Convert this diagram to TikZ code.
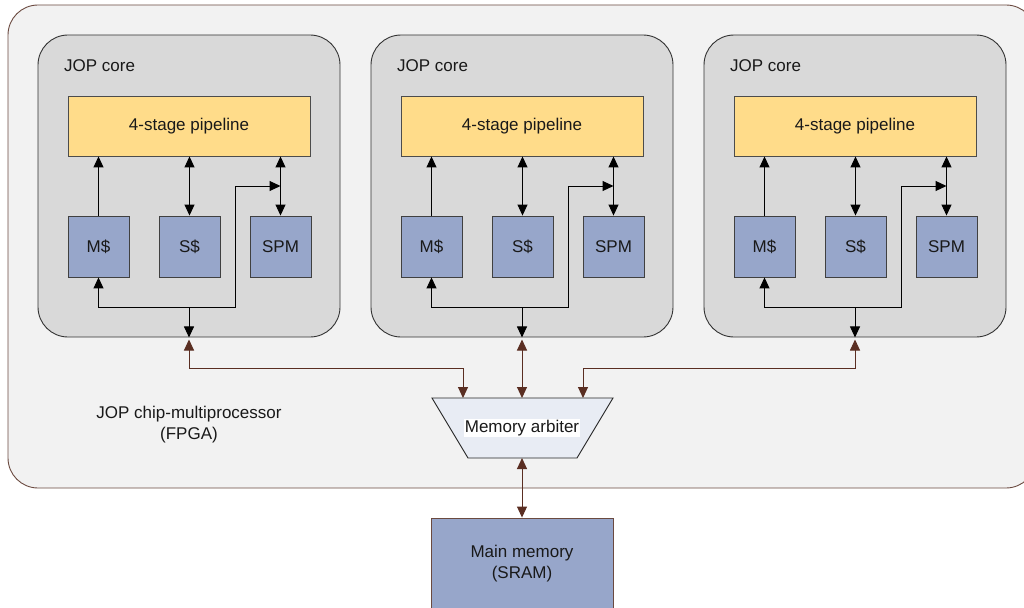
\documentclass[tikz,border=0pt]{standalone}
\usepackage{fontspec}
\setmainfont{Liberation Sans}
\usetikzlibrary{arrows.meta,positioning}
\definecolor{outerfill}{HTML}{F2F2F2}
\definecolor{outerline}{HTML}{6B4A40}
\definecolor{corefill}{HTML}{D9D9D9}
\definecolor{pipefill}{HTML}{FFDC8A}
\definecolor{unitfill}{HTML}{97A6CA}
\definecolor{arbfill}{HTML}{E8ECF4}
\definecolor{brownline}{HTML}{5A2E22}
\tikzset{
  txt/.style={font=\fontsize{17}{21}\selectfont, text=black!90},
  corebox/.style={draw=black!80, line width=0.9pt, fill=corefill, rounded corners=30pt, minimum width=302pt, minimum height=302pt, inner sep=0pt},
  pipebox/.style={draw=black!70, line width=0.9pt, fill=pipefill, minimum width=242pt, minimum height=60pt, inner sep=0pt, txt},
  unitbox/.style={draw=black!75, line width=0.9pt, fill=unitfill, minimum width=61pt, minimum height=61pt, inner sep=0pt, txt},
  blk/.style={draw=black, line width=1pt},
  brn/.style={draw=brownline, line width=1pt},
  tip/.tip={Triangle[length=11pt,width=10pt]},
}
\begin{document}
\begin{tikzpicture}[x=1pt,y=-1pt]
\useasboundingbox (0,0) rectangle (1024,607);
\clip (0,0) rectangle (1024,607);
% outer FPGA box
\node[draw=outerline, line width=0.9pt, fill=outerfill, rounded corners=30pt, minimum width=1028pt, minimum height=483pt, inner sep=0pt] (fpga) at (522,246.5) {};
\node[txt, align=center] (fpgalabel) at (189,425) {JOP chip-multiprocessor\\(FPGA)};

\foreach \i/\dx in {1/0,2/333,3/666} {
  \node[corebox] (core\i) at (189+\dx,186) {};
  \node[txt, anchor=west, inner sep=0pt] (corelabel\i) at (64+\dx,66) {JOP core};
  \node[pipebox] (pipe\i) at (189+\dx,126) {4-stage pipeline};
  \node[unitbox] (m\i) at (98.5+\dx,246.5) {M\$};
  \node[unitbox] (s\i) at (189.5+\dx,246.5) {S\$};
  \node[unitbox] (spm\i) at (280.5+\dx,246.5) {SPM};
  \coordinate (k\i) at (235+\dx,307);
  \coordinate (h\i) at (280.5+\dx,186);
  \coordinate (j\i) at (189+\dx,307);
  \coordinate (bb\i) at (189+\dx,339.5);
  \draw[blk, -tip] (m\i.north) -- (m\i.north |- pipe\i.south);
  \draw[blk, tip-tip] (s\i.north) -- (s\i.north |- pipe\i.south);
  \draw[blk, tip-tip] (spm\i.north) -- (spm\i.north |- pipe\i.south);
  \draw[blk, tip-tip] (m\i.south) |- (k\i) |- (h\i);
  \draw[blk, -tip] (j\i) -- (j\i |- core\i.south);
}

% memory arbiter
\coordinate (a1) at (432,398);
\coordinate (a2) at (613,398);
\coordinate (a3) at (577,458);
\coordinate (a4) at (468,458);
\draw[draw=black!85, line width=0.9pt, fill=arbfill] (a1) -- (a2) -- (a3) -- (a4) -- cycle;
\node[txt, fill=white, inner sep=1pt] (arb) at (522,428) {Memory arbiter};
\coordinate (arbL) at (463,398);
\coordinate (arbM) at (522,398);
\coordinate (arbR) at (583,398);
\coordinate (arbB) at (522,458);

% main memory
\node[draw=outerline, line width=0.9pt, fill=unitfill, minimum width=182pt, minimum height=92pt, inner sep=0pt, txt, align=center] (mem) at (522,564) {Main memory\\(SRAM)};

% brown connectors
\draw[brn, tip-tip] (bb1) |- (arbL |- 0,368) -- (arbL);
\draw[brn, tip-tip] (bb2) -- (arbM);
\draw[brn, tip-tip] (bb3) |- (arbR |- 0,368) -- (arbR);
\draw[brn, tip-tip] (arbB) -- (mem.north);
\end{tikzpicture}
\end{document}
